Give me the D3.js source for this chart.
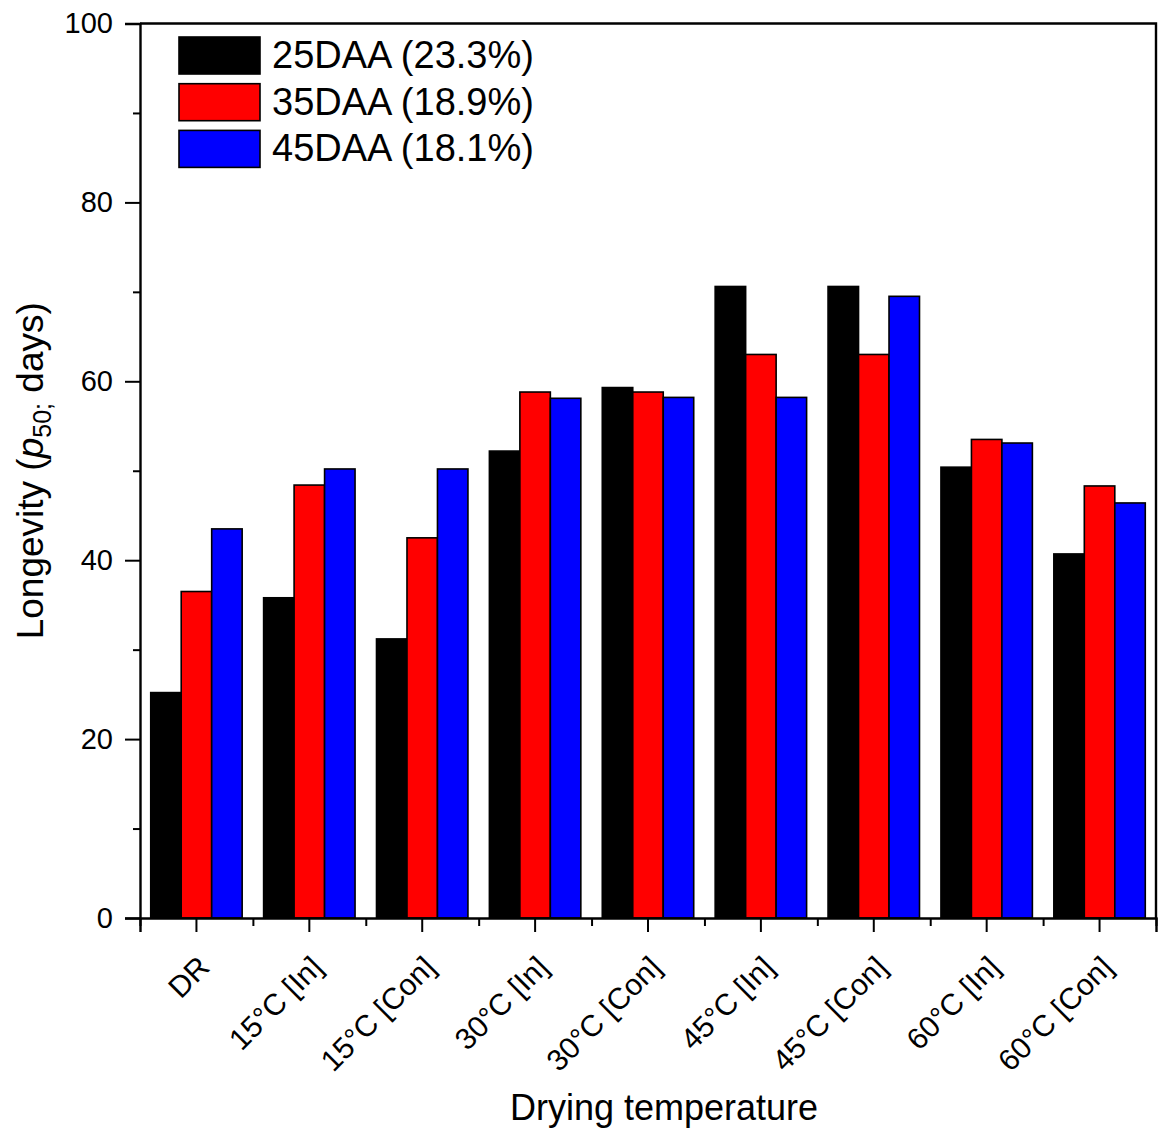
<!DOCTYPE html>
<html>
<head>
<meta charset="utf-8">
<script src="https://cdn.jsdelivr.net/npm/d3@7"></script>
<style>
  html, body { margin: 0; padding: 0; background: #fff; }
  svg { display: block; font-family: "Liberation Sans", Arial, sans-serif; }
</style>
</head>
<body>
<svg id="chart" width="1160" height="1131"></svg>
<script>
// Drying treatments on the x axis
const categories = ["DR", "15°C [In]", "15°C [Con]", "30°C [In]", "30°C [Con]",
                    "45°C [In]", "45°C [Con]", "60°C [In]", "60°C [Con]"];

// Harvest stages (with seed moisture content)
const seriesNames = ["25DAA (23.3%)", "35DAA (18.9%)", "45DAA (18.1%)"];
const seriesColors = ["#000000", "#ff0000", "#0000ff"];

// Longevity p50 (days) per treatment, one array per harvest stage
const daa25 = [25.2, 35.8, 31.2, 52.2, 59.3, 70.6, 70.6, 50.4, 40.7];
const daa35 = [36.5, 48.4, 42.5, 58.8, 58.8, 63.0, 63.0, 53.5, 48.3];
const daa45 = [43.5, 50.2, 50.2, 58.1, 58.2, 58.2, 69.5, 53.1, 46.4];

const yMajorTicks = [0, 20, 40, 60, 80, 100];
const yMinorTicks = [10, 30, 50, 70, 90];

const seriesValues = [daa25, daa35, daa45];

const svg = d3.select("#chart");
const plotLeft = 140, plotRight = 1156, plotTop = 23.5, plotBottom = 918;

const y = d3.scaleLinear().domain([0, 100]).range([plotBottom, plotTop]);
const x0 = d3.scaleBand().domain(categories).range([plotLeft, plotRight]).padding(0);
const bw = x0.bandwidth();
const gw = bw * 0.81;
const x1 = d3.scaleBand().domain(seriesNames)
  .range([(bw - gw) / 2, (bw + gw) / 2]).padding(0);

// Bars
const groups = svg.append("g").selectAll("g")
  .data(categories)
  .join("g")
  .attr("transform", d => `translate(${x0(d)},0)`);

groups.selectAll("rect")
  .data((d, i) => seriesNames.map((s, k) => ({ s, k, v: seriesValues[k][i] })))
  .join("rect")
  .attr("x", d => x1(d.s))
  .attr("y", d => y(d.v))
  .attr("width", x1.bandwidth())
  .attr("height", d => y(0) - y(d.v))
  .attr("fill", d => seriesColors[d.k])
  .attr("stroke", "#000")
  .attr("stroke-width", 1.6);

// Frame (top and right)
svg.append("path")
  .attr("d", `M${plotLeft},${plotTop}H${plotRight}V${plotBottom}`)
  .attr("fill", "none").attr("stroke", "#000").attr("stroke-width", 2.4);

// Y axis
const yAxis = svg.append("g").attr("transform", `translate(${plotLeft},0)`)
  .call(d3.axisLeft(y).tickValues(yMajorTicks).tickSize(15).tickPadding(12)
    .tickFormat(d3.format("d")));
yAxis.select(".domain").attr("stroke-width", 2.4);
yAxis.selectAll(".tick line").attr("stroke-width", 2);
yAxis.selectAll(".tick text").attr("font-size", 29).attr("fill", "#000")
  .attr("font-family", "Liberation Sans, Arial, sans-serif");

const yMinor = svg.append("g").attr("transform", `translate(${plotLeft},0)`)
  .call(d3.axisLeft(y).tickValues(yMinorTicks).tickSize(7).tickFormat(""));
yMinor.select(".domain").remove();
yMinor.selectAll(".tick line").attr("stroke-width", 2);

// X axis: major ticks at group centres, minor ticks at group boundaries
const xAxis = svg.append("g").attr("transform", `translate(0,${plotBottom})`)
  .call(d3.axisBottom(x0).tickSize(14).tickFormat(""));
xAxis.select(".domain").attr("stroke-width", 2.4);
xAxis.selectAll(".tick line").attr("stroke-width", 2);

const xEdge = d3.scaleLinear().domain([0, categories.length]).range([plotLeft, plotRight]);
const xMinor = svg.append("g").attr("transform", `translate(0,${plotBottom})`)
  .call(d3.axisBottom(xEdge).tickValues(d3.range(0, categories.length + 1))
    .tickSize(8).tickFormat(""));
xMinor.select(".domain").remove();
xMinor.selectAll(".tick line").attr("stroke-width", 2);

// Rotated category labels
svg.append("g").selectAll("text")
  .data(categories)
  .join("text")
  .attr("transform", d => `translate(${x0(d) + bw / 2 + 15},${plotBottom + 51}) rotate(-45)`)
  .attr("text-anchor", "end")
  .attr("font-size", 30)
  .attr("fill", "#000")
  .text(d => d);

// Axis titles
svg.append("text")
  .attr("x", 664).attr("y", 1120)
  .attr("text-anchor", "middle")
  .attr("font-size", 36)
  .text("Drying temperature");

const yTitle = svg.append("text")
  .attr("transform", `translate(43,${(plotTop + plotBottom) / 2}) rotate(-90)`)
  .attr("text-anchor", "middle")
  .attr("font-size", 37);
yTitle.append("tspan").text("Longevity (");
yTitle.append("tspan").attr("font-style", "italic").text("p");
yTitle.append("tspan").attr("font-size", 25).attr("dy", 8).text("50;");
yTitle.append("tspan").attr("dy", -8).text(" days)");

// Legend
const legend = svg.append("g").attr("transform", "translate(179,37)");
const rows = legend.selectAll("g")
  .data(seriesNames)
  .join("g")
  .attr("transform", (d, i) => `translate(0,${i * 46.7})`);
rows.append("rect")
  .attr("width", 81).attr("height", 37)
  .attr("fill", (d, i) => seriesColors[i])
  .attr("stroke", "#000").attr("stroke-width", 1.6);
rows.append("text")
  .attr("x", 93).attr("y", 31)
  .attr("font-size", 38)
  .text(d => d);
</script>
</body>
</html>
